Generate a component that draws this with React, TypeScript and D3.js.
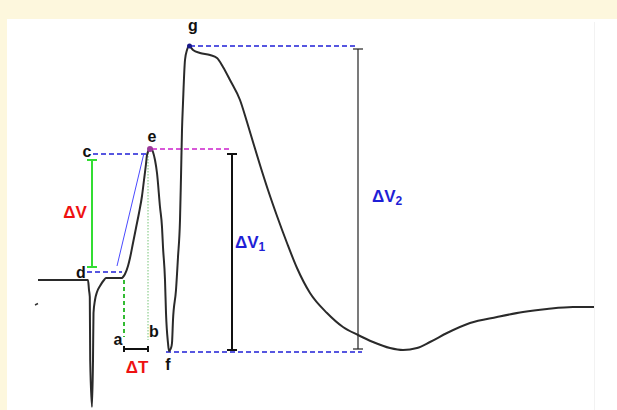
import React from "react";
import * as d3 from "d3";

// Trace: time (ms) and voltage (arbitrary units, baseline = 0)
const traceTime = [
  0, 5.0, 5.1, 5.18, 5.22, 5.4, 5.5, 5.55, 5.7, 5.9, 6.2, 6.6, 6.8, 8.4,
  8.5, 8.7, 9.0, 9.2, 9.5, 9.8, 10.1, 10.4, 10.6, 10.8, 10.9, 11.1,
  11.3,
  11.5, 11.7, 11.9, 12.2, 12.4, 12.5, 12.7, 12.8, 13.0, 13.1,
  13.3, 13.4, 13.5, 13.8, 14.0, 14.2, 14.3, 14.4, 14.5, 14.7, 14.9, 15.1,
  15.5, 16.2, 17.2, 17.9, 18.5, 19.2, 20.2, 20.9, 21.5, 22.2, 23.0,
  23.9, 24.9, 25.9, 27.2, 28.9, 30.5, 32.0, 33.5, 35.2, 36.5, 37.9, 39.2,
  40.9, 43.2, 45.9, 48.5, 50.9, 53.5, 55.6,
];
const traceVolt = [
  0, 0, -1.0, -1.7, -8.0, -12.7, -8.0, -3.3, -2.0, -1.2, -0.6, 0, 0.2, 0.2,
  0.3, 0.6, 1.4, 2.2, 3.7, 5.2, 6.7, 8.4, 10.0, 11.6, 12.5, 13.0,
  13.2,
  12.8, 12.0, 10.7, 7.3, 5.3, 3.3, 0, -3.3, -6.3, -7.1,
  -6.8, -6.3, -4.0, -1.0, 2.3, 6.0, 10.3, 15.0, 17.7, 22.0, 23.0, 23.4,
  23.0, 22.7, 22.5, 22.2, 21.3, 20.0, 18.0, 15.8, 13.8, 11.5, 9.0,
  6.4, 3.7, 1.2, -1.3, -3.3, -4.7, -5.5, -6.2, -6.8, -7.0, -6.8, -6.2,
  -5.3, -4.3, -3.7, -3.2, -2.9, -2.7, -2.7,
];

// Annotation values (data units)
const levelC = 12.6;
const levelD = 0.8;
const levelE = 13.1;
const levelF = -7.2;
const levelG = 23.4;
const timeA = 8.6;
const timeB = 11.0;
const timeDV = 5.4;
const timeDV1 = 19.4;
const timeDV2 = 32.0;

export default function App() {
  const W = 617;
  const H = 410;
  const x = d3.scaleLinear().domain([0, 55.6]).range([38, 594]);
  const y = d3.scaleLinear().domain([-13, 23.4]).range([410, 46]);

  const pts: [number, number][] = traceTime.map((t, i) => [t, traceVolt[i]]);
  const line = d3
    .line<[number, number]>()
    .x((d) => x(d[0]))
    .y((d) => y(d[1]))
    .curve(d3.curveMonotoneX);

  const blue = "#1f1fd6";
  const font = "'Liberation Sans', Arial, sans-serif";

  const hDash = (t0: number, t1: number, v: number, color: string, key: string) => (
    <line key={key} x1={x(t0)} x2={x(t1)} y1={y(v)} y2={y(v)} stroke={color} strokeWidth={1.6} strokeDasharray="5,3" />
  );
  const bracket = (t: number, v0: number, v1: number, color: string, sw: number, cap: number) => (
    <g stroke={color} strokeWidth={sw}>
      <line x1={x(t)} x2={x(t)} y1={y(v0)} y2={y(v1)} />
      <line x1={x(t) - cap} x2={x(t) + cap} y1={y(v0)} y2={y(v0)} />
      <line x1={x(t) - cap} x2={x(t) + cap} y1={y(v1)} y2={y(v1)} />
    </g>
  );

  return (
    <svg
      width={W}
      height={H}
      style={{ position: "absolute", left: 0, top: 0, display: "block" }}
      fontFamily={font}
    >
      <rect x={0} y={0} width={W} height={H} fill="#fdf7dd" />
      <rect x={7} y={19} width={W - 7} height={H - 19} fill="#ffffff" />
      <line x1={594.5} x2={594.5} y1={22} y2={H} stroke="#f2f2f2" strokeWidth={1} />

      {/* guide lines */}
      {hDash(5.5, 11.0, levelC, blue, "c")}
      {hDash(4.9, 8.4, levelD, blue, "d")}
      {hDash(11.4, timeDV1, levelE, "#cc22cc", "e")}
      {hDash(12.8, 32.4, levelF, blue, "f")}
      {hDash(15.2, 31.7, levelG, blue, "g")}

      {/* slope line d -> e */}
      <line x1={x(7.9)} y1={y(1.4)} x2={x(10.6)} y2={y(12.7)} stroke="#4a4aff" strokeWidth={1} />

      {/* a and b verticals */}
      <line x1={x(timeA)} x2={x(timeA)} y1={y(0)} y2={y(-5.7)} stroke="#33bb33" strokeWidth={2} strokeDasharray="4,3" />
      <line x1={x(timeB)} x2={x(timeB)} y1={y(13.0)} y2={y(-6.0)} stroke="#77c477" strokeWidth={1} strokeDasharray="1.5,1.5" />

      {/* brackets */}
      {bracket(timeDV, 12.0, 1.3, "#33dd33", 2, 5)}
      {bracket(timeDV1, levelC, -7.0, "#111111", 2, 5)}
      {bracket(timeDV2, 23.1, -6.9, "#222222", 1.2, 5)}
      <g stroke="#111" strokeWidth={2}>
        <line x1={x(timeA)} x2={x(timeB)} y1={y(-6.9)} y2={y(-6.9)} />
        <line x1={x(timeA)} x2={x(timeA)} y1={y(-6.9) - 3} y2={y(-6.9) + 3} />
        <line x1={x(timeB)} x2={x(timeB)} y1={y(-6.9) - 3} y2={y(-6.9) + 3} />
      </g>

      {/* small artifact mark */}
      <path d={`M${x(-0.3)},${y(-2.5)} l3,-1.5`} stroke="#333" strokeWidth={1.5} fill="none" />

      {/* trace */}
      <path d={line(pts) || ""} fill="none" stroke="#2a2a2a" strokeWidth={2} strokeLinejoin="round" />

      {/* markers */}
      <circle cx={x(15.15)} cy={y(levelG)} r={2.5} fill="#1a1a8a" />
      <circle cx={x(11.2)} cy={y(levelE)} r={3} fill="#9a3a9a" />

      {/* point labels */}
      <g fontWeight="bold" fontSize={16} fill="#111" textAnchor="middle">
        <text x={193} y={31}>g</text>
        <text x={152} y={142}>e</text>
        <text x={87} y={157}>c</text>
        <text x={81} y={278}>d</text>
        <text x={118} y={345}>a</text>
        <text x={154} y={337}>b</text>
        <text x={168} y={370}>f</text>
      </g>

      <g fontWeight="bold" fontSize={17}>
        <text x={137} y={373} fill="#ee1111" textAnchor="middle">ΔT</text>
        <text x={75} y={218} fill="#ee1111" textAnchor="middle">ΔV</text>
        <text x={235} y={248} fill={blue}>
          ΔV<tspan fontSize={12} dy={3}>1</tspan>
        </text>
        <text x={372} y={202} fill={blue}>
          ΔV<tspan fontSize={12} dy={3}>2</tspan>
        </text>
      </g>
    </svg>
  );
}
